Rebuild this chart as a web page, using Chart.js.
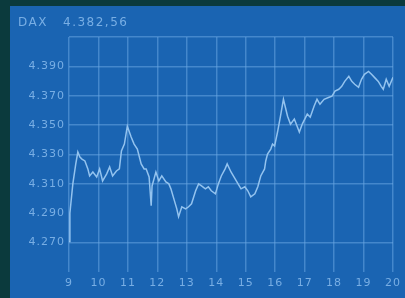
<!DOCTYPE html>
<html>
<head>
<meta charset="utf-8">
<script src="https://cdn.jsdelivr.net/npm/chart.js@4.4.1/dist/chart.umd.min.js"></script>
<style>
	html, body {
		margin: 0;
		padding: 0;
		width: 405px;
		height: 298px;
		overflow: hidden;
		background: #0b3a3d;
	}
	#panel {
		position: absolute;
		left: 10px;
		top: 6px;
		width: 395px;
		height: 292px;
		background: #1a64b2;
	}
</style>
</head>
<body>
<div id="panel"><canvas id="daxChart" width="395" height="292"></canvas></div>
<script>
// Handelstag (9..20) und DAX-Stand
const days = [
	9.0, 9.03, 9.13, 9.23, 9.3, 9.37, 9.44, 9.54, 9.64, 9.7, 9.81, 9.94,
	10.04, 10.14, 10.28, 10.38, 10.48, 10.61, 10.71, 10.78, 10.88, 10.98,
	11.05, 11.11, 11.21, 11.32, 11.45, 11.55, 11.62, 11.72, 11.79, 11.82, 11.95,
	12.05, 12.15, 12.29, 12.39, 12.46, 12.56, 12.66, 12.72, 12.83, 12.96,
	13.06, 13.16, 13.3, 13.4, 13.5, 13.63, 13.73, 13.83, 13.97,
	14.07, 14.17, 14.3, 14.37, 14.5, 14.64, 14.74, 14.84, 14.97,
	15.07, 15.17, 15.31, 15.41, 15.51, 15.64, 15.68, 15.74, 15.85, 15.91, 15.98,
	16.08, 16.18, 16.28, 16.42, 16.52, 16.65, 16.82, 16.92,
	17.09, 17.19, 17.32, 17.42, 17.52, 17.66, 17.83, 17.93,
	18.03, 18.16, 18.26, 18.36, 18.5, 18.6, 18.7, 18.83, 18.93,
	19.03, 19.17, 19.27, 19.37, 19.5, 19.6, 19.67, 19.77, 19.87, 20.0
];
const prices = [
	4270.7, 4290.0, 4310.0, 4323.6, 4331.7, 4328.3, 4326.9, 4325.6, 4320.2, 4315.4, 4318.1, 4314.7,
	4320.2, 4312.0, 4316.8, 4321.5, 4315.4, 4318.8, 4320.2, 4332.4, 4337.1, 4349.3,
	4345.3, 4341.9, 4337.1, 4333.7, 4323.6, 4320.2, 4320.2, 4314.7, 4295.1, 4308.6, 4318.1,
	4312.0, 4315.4, 4311.3, 4310.0, 4306.6, 4299.8, 4293.0, 4287.6, 4294.4, 4293.0,
	4294.4, 4296.4, 4305.3, 4310.0, 4308.6, 4306.6, 4308.0, 4305.3, 4303.2,
	4310.0, 4315.4, 4320.2, 4323.6, 4318.1, 4313.4, 4310.0, 4306.6, 4308.0,
	4305.3, 4301.2, 4303.2, 4308.0, 4315.4, 4320.2, 4325.6, 4330.3, 4333.7, 4337.1, 4335.8,
	4345.3, 4356.1, 4367.6, 4356.1, 4350.7, 4354.1, 4345.3, 4350.7,
	4357.5, 4355.4, 4362.9, 4367.6, 4364.2, 4367.6, 4369.0, 4369.7,
	4373.1, 4374.4, 4376.4, 4379.8, 4383.2, 4379.8, 4377.8, 4375.8, 4381.2,
	4384.6, 4386.6, 4384.6, 4382.5, 4379.8, 4376.4, 4374.4, 4381.2, 4376.4, 4382.56
];
const yTicks = [4270, 4290, 4310, 4330, 4350, 4370, 4390, 4410];
const xTicks = [9, 10, 11, 12, 13, 14, 15, 16, 17, 18, 19, 20];
const titleName = "DAX";
const titleValue = "4.382,56";

function formatDE(v) {
	const s = String(Math.round(v));
	return s.slice(0, s.length - 3) + "." + s.slice(-3);
}

const gridColor = "rgba(110, 170, 230, 0.5)";
const textColor = "#78aee4";

// Kopfzeile mit Index-Name und Stand, etwas gesperrt
const headerPlugin = {
	id: "header",
	beforeDraw(chart) {
		chart.ctx.letterSpacing = "1px";
	},
	afterDraw(chart) {
		const ctx = chart.ctx;
		ctx.save();
		ctx.letterSpacing = "1.5px";
		ctx.fillStyle = textColor;
		ctx.font = "12px 'DejaVu Sans'";
		ctx.textBaseline = "middle";
		ctx.textAlign = "left";
		ctx.fillText(titleName, 8, 17);
		ctx.fillText(titleValue, 53, 17);
		ctx.restore();
	},
};

new Chart(document.getElementById("daxChart"), {
	type: "line",
	data: {
		datasets: [
			{
				data: days.map((d, i) => ({ x: d, y: prices[i] })),
				borderColor: "#93c3ef",
				borderWidth: 1.5,
				pointRadius: 0,
				tension: 0,
				fill: false,
			},
		],
	},
	plugins: [headerPlugin],
	options: {
		responsive: false,
		animation: false,
		layout: { padding: { left: 0, right: 9, top: 31, bottom: 0 } },
		plugins: {
			legend: { display: false },
			tooltip: { enabled: false },
			title: { display: false },
		},
		scales: {
			x: {
				type: "linear",
				min: 9,
				max: 20,
				afterBuildTicks: (scale) => {
					scale.ticks = xTicks.map((v) => ({ value: v }));
				},
				afterFit: (scale) => {
					scale.height = 26;
				},
				border: { display: false },
				grid: { color: gridColor, lineWidth: 1.5, drawTicks: false },
				ticks: {
					color: textColor,
					padding: 5,
					maxRotation: 0,
					font: { family: "DejaVu Sans", size: 11 },
					callback: (v) => String(v),
				},
			},
			y: {
				min: 4250,
				max: 4410,
				afterBuildTicks: (scale) => {
					scale.ticks = yTicks.map((v) => ({ value: v }));
				},
				afterFit: (scale) => {
					scale.width = 59;
				},
				border: { display: false },
				grid: {
					drawTicks: false,
					lineWidth: 1.5,
					color: (ctx) => (ctx.tick && ctx.tick.value === 4290 ? "rgba(0,0,0,0)" : gridColor),
				},
				ticks: {
					color: textColor,
					padding: 4,
					font: { family: "DejaVu Sans", size: 11 },
					callback: (v) => (v === 4410 ? "" : formatDE(v)),
				},
			},
		},
	},
});
</script>
</body>
</html>
